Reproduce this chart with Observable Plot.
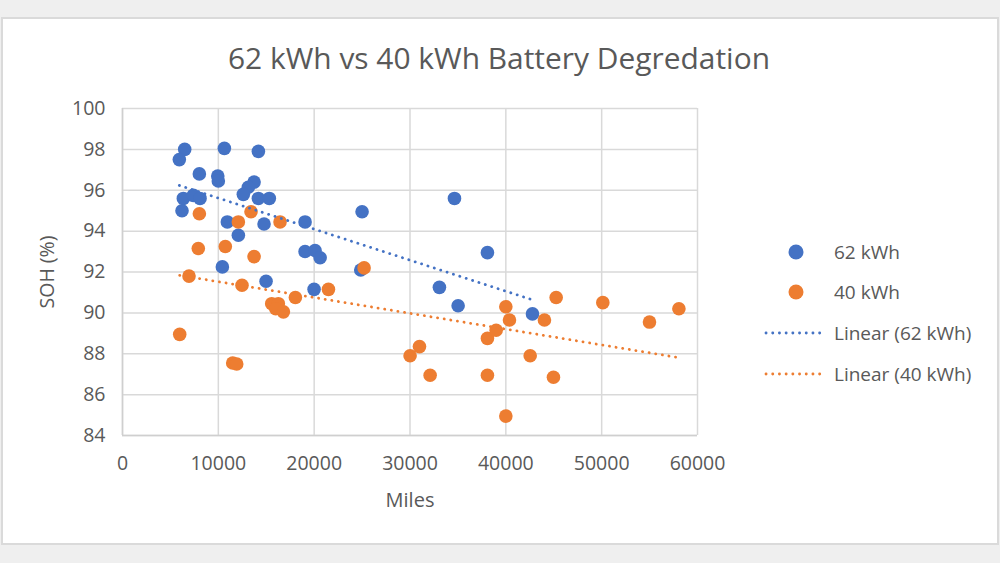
<!DOCTYPE html>
<html>
<head>
<meta charset="utf-8">
<script src="https://cdn.jsdelivr.net/npm/d3@7"></script>
<script src="https://cdn.jsdelivr.net/npm/@observablehq/plot@0.6"></script>
<style>
  html, body { margin: 0; padding: 0; background: #efefef; }
  #wrap { position: relative; width: 1000px; height: 563px; overflow: hidden; font-family: "Open Sans", "Noto Sans", sans-serif; }
  #panel { position: absolute; left: 1px; top: 17px; width: 994px; height: 524px; background: #fff; border: 2px solid #dadada; }
  #title { position: absolute; left: 0; top: 0; }
  #chart { position: absolute; left: 0; top: 0; }
  .leg { position: absolute; left: 760px; height: 30px; display: flex; align-items: center; font-size: 19px; color: #595959; white-space: nowrap; }
  .leg svg { width: 70px; height: 30px; flex: none; }
  .leg span { margin-left: 4px; }
</style>
</head>
<body>
<div id="wrap">
  <div id="panel"></div>
  <svg id="title" width="1000" height="100"></svg>
  <div id="chart"></div>
  <div id="legend"></div>
</div>
<script>
// ---- data ----
const titleText = "62 kWh vs 40 kWh Battery Degredation";
const xLabel = "Miles";
const yLabel = "SOH (%)";
const seriesNames = ["62 kWh", "40 kWh", "Linear (62 kWh)", "Linear (40 kWh)"];
const xTicks = [0, 10000, 20000, 30000, 40000, 50000, 60000];
const yTicks = [84, 86, 88, 90, 92, 94, 96, 98, 100];

const miles62 = [6490, 5930, 10630, 14180, 8020, 9940, 10000, 13730, 13130, 12610, 14180, 15320, 6350, 7390, 8090, 6210, 10940, 14770, 19050, 12090, 19050, 20090, 20620, 10420, 14980, 19990, 25000, 34640, 38080, 24860, 33070, 35020, 42780];
const soh62   = [98.0, 97.5, 98.05, 97.9, 96.8, 96.7, 96.45, 96.4, 96.15, 95.8, 95.6, 95.6, 95.6, 95.75, 95.6, 95.0, 94.45, 94.35, 94.45, 93.8, 93.0, 93.05, 92.7, 92.25, 91.55, 91.15, 94.95, 95.6, 92.95, 92.1, 91.25, 90.35, 89.95];

const miles40 = [8020, 13410, 12090, 16440, 7910, 10730, 13730, 6940, 12470, 18040, 15570, 16260, 15990, 16790, 5970, 11500, 11920, 25210, 21490, 30010, 30990, 32100, 38080, 38990, 38080, 40000, 40380, 45250, 44030, 50120, 54990, 58060, 42540, 44970, 40000];
const soh40   = [94.85, 94.95, 94.45, 94.45, 93.15, 93.25, 92.75, 91.8, 91.35, 90.75, 90.45, 90.45, 90.2, 90.05, 88.95, 87.55, 87.5, 92.2, 91.15, 87.9, 88.35, 86.95, 88.75, 89.15, 86.95, 90.3, 89.65, 90.75, 89.65, 90.5, 89.55, 90.2, 87.9, 86.85, 84.95];

const blue = "#4472C4";
const orange = "#ED7D31";
const textColor = "#595959";
const gridColor = "#d9d9d9";

const s62 = miles62.map((m, i) => ({miles: m, soh: soh62[i]}));
const s40 = miles40.map((m, i) => ({miles: m, soh: soh40[i]}));

const dotted = {strokeWidth: 2.8, strokeDasharray: "0.1 6.6", strokeLinecap: "round"};

const chart = Plot.plot({
  width: 1000,
  height: 563,
  marginLeft: 122,
  marginRight: 303,
  marginTop: 108,
  marginBottom: 128,
  style: {background: "transparent", fontFamily: "'Open Sans', 'Noto Sans', sans-serif", fontSize: "19.5px", color: textColor},
  x: {domain: [0, 60000], ticks: xTicks, label: null},
  y: {domain: [84, 100], ticks: yTicks, label: null},
  marks: [
    Plot.gridX(xTicks, {stroke: gridColor, strokeOpacity: 1, strokeWidth: 1.5}),
    Plot.gridY(yTicks, {stroke: gridColor, strokeOpacity: 1, strokeWidth: 1.5}),
    Plot.ruleX([0], {stroke: "#cfcfcf", strokeWidth: 1.5}),
    Plot.ruleY([84], {stroke: "#cfcfcf", strokeWidth: 1.5}),
    Plot.axisX(xTicks, {tickSize: 0, tickPadding: 21, fill: textColor, fontSize: 19.5, label: null, tickFormat: d => String(d)}),
    Plot.axisY(yTicks, {tickSize: 0, tickPadding: 17, fill: textColor, fontSize: 19.5, label: null, tickFormat: d => String(d)}),
    Plot.text([yLabel], {frameAnchor: "left", dx: -75, rotate: -90, textAnchor: "middle", lineAnchor: "middle", fontSize: 19.5, fill: textColor}),
    Plot.text([xLabel], {frameAnchor: "bottom", dy: 65, textAnchor: "middle", lineAnchor: "middle", fontSize: 20, fill: textColor}),
    Plot.dot(s62, {x: "miles", y: "soh", r: 6.8, fill: blue, stroke: "none"}),
    Plot.dot(s40, {x: "miles", y: "soh", r: 6.8, fill: orange, stroke: "none"}),
    Plot.linearRegressionY(s62, {x: "miles", y: "soh", stroke: blue, ci: 0, ...dotted}),
    Plot.linearRegressionY(s40, {x: "miles", y: "soh", stroke: orange, ci: 0, ...dotted})
  ]
});
document.getElementById("chart").appendChild(chart);

// title
d3.select("#title").append("text")
  .attr("x", 499).attr("y", 69)
  .attr("text-anchor", "middle")
  .attr("font-family", "'Open Sans', 'Noto Sans', sans-serif")
  .attr("font-size", 29)
  .attr("fill", textColor)
  .attr("textLength", 542)
  .attr("lengthAdjust", "spacingAndGlyphs")
  .text(titleText);

// legend
const legendTops = [252, 292, 333, 374];
const legendColors = [blue, orange, blue, orange];
const legend = d3.select("#legend");
seriesNames.forEach((name, i) => {
  const row = legend.append("div").attr("class", "leg").style("top", (legendTops[i] - 15) + "px");
  const sv = row.append("svg");
  if (i < 2) {
    sv.append("circle").attr("cx", 36).attr("cy", 15).attr("r", 7.5).attr("fill", legendColors[i]);
  } else {
    sv.append("line").attr("x1", 6).attr("x2", 63).attr("y1", 15).attr("y2", 15)
      .attr("stroke", legendColors[i]).attr("stroke-width", 2.8)
      .attr("stroke-dasharray", "0.1 6.6").attr("stroke-linecap", "round");
  }
  row.append("span").text(name);
});
</script>
</body>
</html>
